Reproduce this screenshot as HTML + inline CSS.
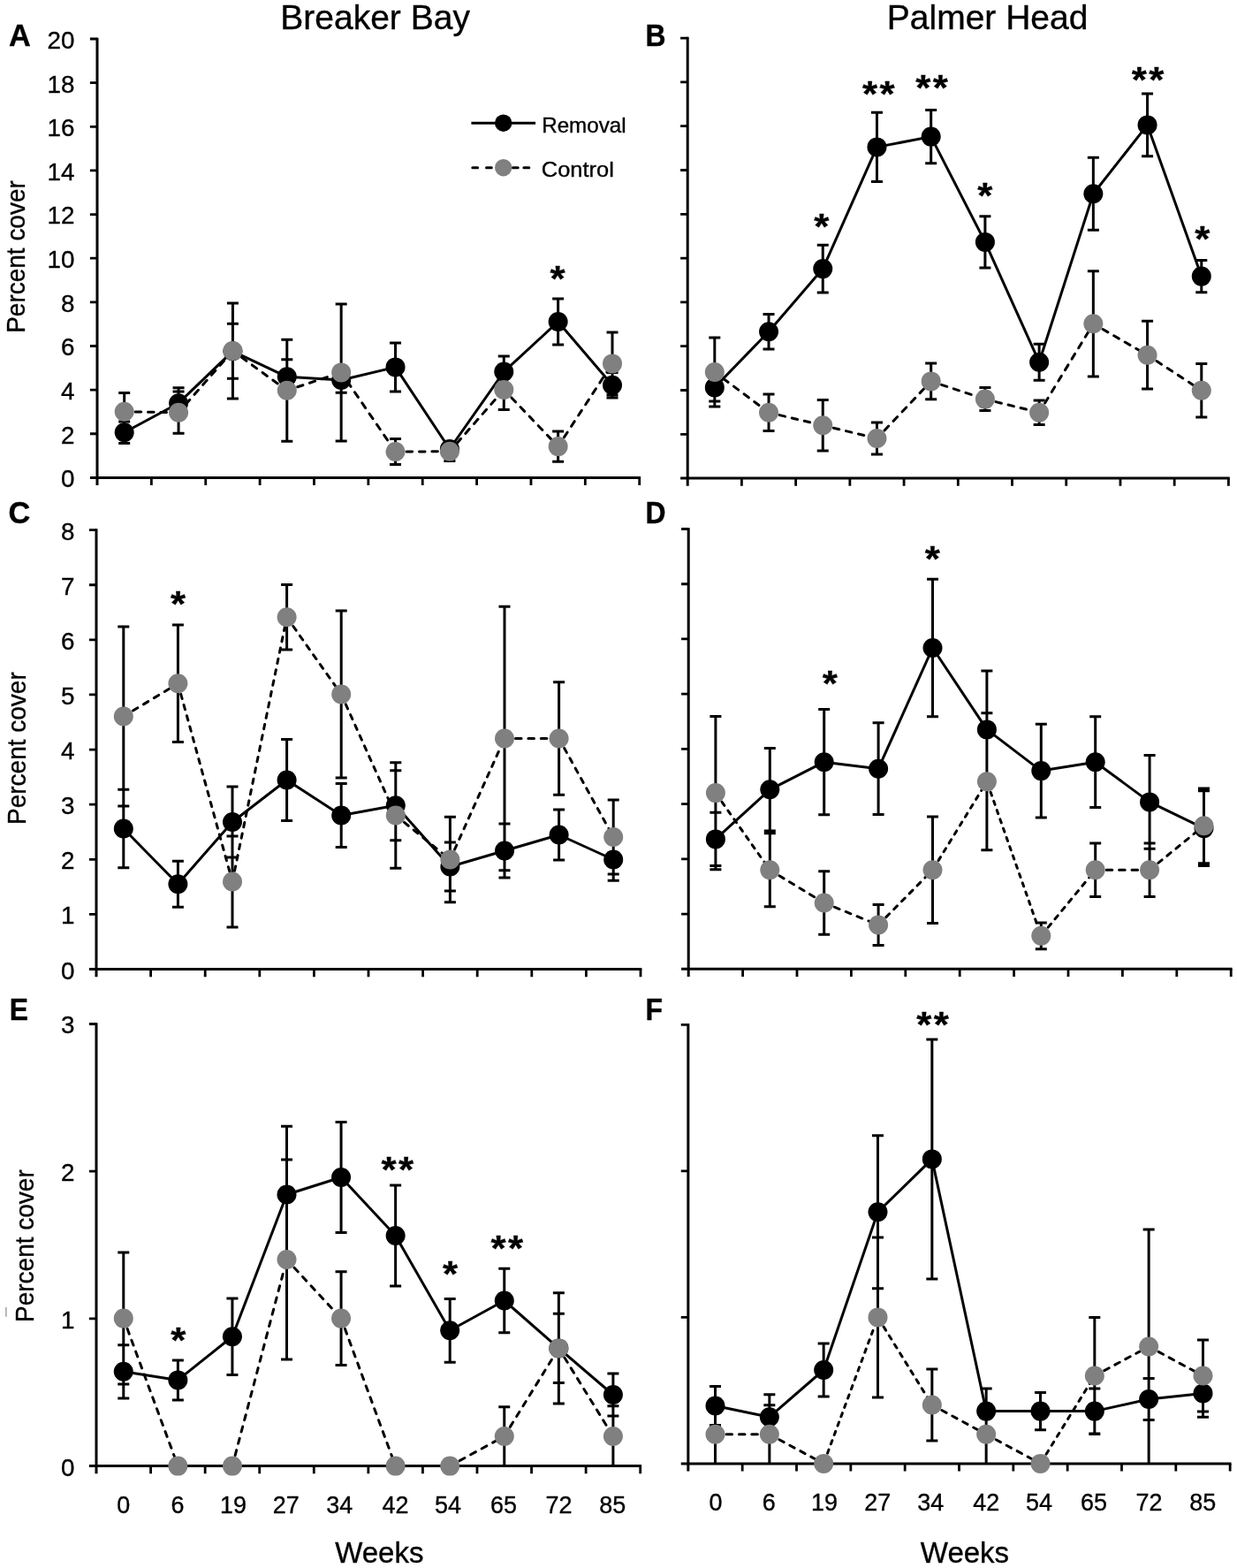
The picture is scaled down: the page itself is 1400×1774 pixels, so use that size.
<!DOCTYPE html>
<html lang="en"><head><meta charset="utf-8"><title>Percent cover over weeks: Breaker Bay and Palmer Head</title>
<style>
html,body{margin:0;padding:0;background:#fff;}
body{width:1400px;height:1774px;overflow:hidden;}
svg{display:block;}
text{font-family:"Liberation Sans", Arial, Helvetica, sans-serif;fill:#000;stroke:#000;stroke-width:0.35px;}
.ax{fill:none;stroke:#000;stroke-width:3.0;stroke-linecap:butt;}
.tk{fill:none;stroke:#000;stroke-width:2.8;}
.sl{fill:none;stroke:#000;stroke-width:3.0;stroke-linejoin:round;}
.dl{fill:none;stroke:#000;stroke-width:3.0;stroke-linecap:round;}
.eb{fill:none;stroke:#000;stroke-width:3.0;}
.yl{font-size:27.8px;text-anchor:end;}
.xl{font-size:27.8px;text-anchor:middle;}
.pl{font-size:34.3px;font-weight:bold;}
.st{font-size:44.0px;font-weight:bold;text-anchor:middle;}
.yt{font-size:28px;text-anchor:middle;}
.wk{font-size:33px;text-anchor:middle;}
.tt{font-size:39px;text-anchor:middle;}
.lg{font-size:23.8px;}
</style></head><body>
<svg width="1400" height="1774" viewBox="0 0 1400 1774">
<rect width="1400" height="1774" fill="#fff"/>
<text class="tt" x="424.6" y="32.7">Breaker Bay</text>
<text class="tt" x="1117.6" y="33.4">Palmer Head</text>
<text class="pl" transform="translate(10 52) scale(1 1)">A</text>
<text class="pl" transform="translate(730.45 52.1) scale(0.93 1)">B</text>
<text class="pl" transform="translate(9.6 592) scale(1 1)">C</text>
<text class="pl" transform="translate(730.45 591.9) scale(0.93 1)">D</text>
<text class="pl" transform="translate(10.75 1154.2) scale(0.93 1)">E</text>
<text class="pl" transform="translate(730.45 1153.8) scale(0.93 1)">F</text>
<text class="yt" transform="translate(28.2 290.5) rotate(-90) scale(1 1.05)">Percent cover</text>
<text class="yt" transform="translate(28.8 846.6) rotate(-90) scale(1 1.05)">Percent cover</text>
<text class="yt" transform="translate(37.5 1409.6) rotate(-90) scale(1 1.05)">Percent cover</text>
<rect x="6.3" y="1479" width="1.2" height="10.7" fill="#8a8a8a"/>
<g id="panel-A">
<path class="ax" d="M110 42.65 V549.1 M101.9 540.4 H725.05"/>
<path class="tk" d="M171.37 540.4 V549.1M232.74 540.4 V549.1M294.11 540.4 V549.1M355.48 540.4 V549.1M416.85 540.4 V549.1M478.22 540.4 V549.1M539.59 540.4 V549.1M600.96 540.4 V549.1M662.33 540.4 V549.1M723.7 540.4 V549.1M101.9 490.76 H110M101.9 441.12 H110M101.9 391.48 H110M101.9 341.84 H110M101.9 292.2 H110M101.9 242.56 H110M101.9 192.92 H110M101.9 143.28 H110M101.9 93.64 H110M101.9 44 H110"/>
<text class="yl" x="84.5" y="551.3">0</text>
<text class="yl" x="84.5" y="501.66">2</text>
<text class="yl" x="84.5" y="452.02">4</text>
<text class="yl" x="84.5" y="402.38">6</text>
<text class="yl" x="84.5" y="352.74">8</text>
<text class="yl" x="84.5" y="303.1">10</text>
<text class="yl" x="84.5" y="253.46">12</text>
<text class="yl" x="84.5" y="203.82">14</text>
<text class="yl" x="84.5" y="154.18">16</text>
<text class="yl" x="84.5" y="104.54">18</text>
<text class="yl" x="84.5" y="54.9">20</text>
<line class="dl" x1="140.69" y1="465.8" x2="202.06" y2="466.7" stroke-dasharray="6.58 7.82" stroke-dashoffset="-12.5"/>
<line class="dl" x1="202.06" y1="466.7" x2="263.42" y2="397" stroke-dasharray="6.74 7.91" stroke-dashoffset="-12.5"/>
<line class="dl" x1="263.42" y1="397" x2="324.79" y2="441.7" stroke-dasharray="6.68 7.87" stroke-dashoffset="-12.5"/>
<line class="dl" x1="324.79" y1="441.7" x2="386.16" y2="421.4" stroke-dasharray="6.6 7.84" stroke-dashoffset="-12.5"/>
<line class="dl" x1="386.16" y1="421.4" x2="447.53" y2="511" stroke-dasharray="6.77 7.92" stroke-dashoffset="-12.5"/>
<line class="dl" x1="447.53" y1="511" x2="508.9" y2="510.8" stroke-dasharray="6.58 7.82" stroke-dashoffset="-12.5"/>
<line class="dl" x1="508.9" y1="510.8" x2="570.27" y2="440.9" stroke-dasharray="6.74 7.91" stroke-dashoffset="-12.5"/>
<line class="dl" x1="570.27" y1="440.9" x2="631.64" y2="505.1" stroke-dasharray="6.73 7.9" stroke-dashoffset="-12.5"/>
<line class="dl" x1="631.64" y1="505.1" x2="693.01" y2="411.4" stroke-dasharray="6.78 7.93" stroke-dashoffset="-12.5"/>
<polyline class="sl" points="140.69,489.2 202.06,456.2 263.42,397.3 324.79,426.3 386.16,430 447.53,415.4 508.9,508 570.27,420.6 631.64,364 693.01,435.7"/>
<path class="eb" d="M140.69 476.9 V501.5M134.19 476.9 H147.19M134.19 501.5 H147.19M202.06 438.7 V473.7M195.56 438.7 H208.56M195.56 473.7 H208.56M263.42 366.3 V428.3M256.92 366.3 H269.92M256.92 428.3 H269.92M324.79 406.8 V445.8M318.29 406.8 H331.29M318.29 445.8 H331.29M386.16 415.8 V444.2M379.66 415.8 H392.66M379.66 444.2 H392.66M447.53 387.9 V442.9M441.03 387.9 H454.03M441.03 442.9 H454.03M508.9 505 V511M502.4 505 H515.4M502.4 511 H515.4M570.27 402.9 V438.3M563.77 402.9 H576.77M563.77 438.3 H576.77M631.64 338 V390M625.14 338 H638.14M625.14 390 H638.14M693.01 421.4 V450M686.51 421.4 H699.51M686.51 450 H699.51M140.69 444.5 V487.1M134.19 444.5 H147.19M134.19 487.1 H147.19M202.06 443.1 V490.3M195.56 443.1 H208.56M195.56 490.3 H208.56M263.42 343 V451M256.92 343 H269.92M256.92 451 H269.92M324.79 384.2 V499.2M318.29 384.2 H331.29M318.29 499.2 H331.29M386.16 343.9 V498.9M379.66 343.9 H392.66M379.66 498.9 H392.66M447.53 496.6 V525.4M441.03 496.6 H454.03M441.03 525.4 H454.03M508.9 500.1 V521.5M502.4 500.1 H515.4M502.4 521.5 H515.4M570.27 418.4 V463.4M563.77 418.4 H576.77M563.77 463.4 H576.77M631.64 488 V522.2M625.14 488 H638.14M625.14 522.2 H638.14M693.01 376.1 V446.7M686.51 376.1 H699.51M686.51 446.7 H699.51"/>
<circle cx="140.69" cy="489.2" r="11"/>
<circle cx="202.06" cy="456.2" r="11"/>
<circle cx="263.42" cy="397.3" r="11"/>
<circle cx="324.79" cy="426.3" r="11"/>
<circle cx="386.16" cy="430" r="11"/>
<circle cx="447.53" cy="415.4" r="11"/>
<circle cx="508.9" cy="508" r="11"/>
<circle cx="570.27" cy="420.6" r="11"/>
<circle cx="631.64" cy="364" r="11"/>
<circle cx="693.01" cy="435.7" r="11"/>
<circle cx="140.69" cy="465.8" r="11" fill="#808080"/>
<circle cx="202.06" cy="466.7" r="11" fill="#808080"/>
<circle cx="263.42" cy="397" r="11" fill="#808080"/>
<circle cx="324.79" cy="441.7" r="11" fill="#808080"/>
<circle cx="386.16" cy="421.4" r="11" fill="#808080"/>
<circle cx="447.53" cy="511" r="11" fill="#808080"/>
<circle cx="508.9" cy="510.8" r="11" fill="#808080"/>
<circle cx="570.27" cy="440.9" r="11" fill="#808080"/>
<circle cx="631.64" cy="505.1" r="11" fill="#808080"/>
<circle cx="693.01" cy="411.4" r="11" fill="#808080"/>
<text class="st" transform="translate(631.1 309) scale(1 0.94)" y="21.56">*</text>
</g>
<g id="panel-B">
<path class="ax" d="M778.2 41.75 V549.8 M770.1 541.1 H1391.75"/>
<path class="tk" d="M839.42 541.1 V549.8M900.64 541.1 V549.8M961.86 541.1 V549.8M1023.08 541.1 V549.8M1084.3 541.1 V549.8M1145.52 541.1 V549.8M1206.74 541.1 V549.8M1267.96 541.1 V549.8M1329.18 541.1 V549.8M1390.4 541.1 V549.8M770.1 491.3 H778.2M770.1 441.5 H778.2M770.1 391.7 H778.2M770.1 341.9 H778.2M770.1 292.1 H778.2M770.1 242.3 H778.2M770.1 192.5 H778.2M770.1 142.7 H778.2M770.1 92.9 H778.2M770.1 43.1 H778.2"/>
<line class="dl" x1="808.81" y1="421" x2="870.03" y2="466.7" stroke-dasharray="6.64 7.86" stroke-dashoffset="-12.5"/>
<line class="dl" x1="870.03" y1="466.7" x2="931.25" y2="481.3" stroke-dasharray="6.59 7.83" stroke-dashoffset="-12.5"/>
<line class="dl" x1="931.25" y1="481.3" x2="992.47" y2="496" stroke-dasharray="6.59 7.83" stroke-dashoffset="-12.5"/>
<line class="dl" x1="992.47" y1="496" x2="1053.69" y2="431.4" stroke-dasharray="6.68 7.88" stroke-dashoffset="-12.5"/>
<line class="dl" x1="1053.69" y1="431.4" x2="1114.91" y2="451.6" stroke-dasharray="6.59 7.83" stroke-dashoffset="-12.5"/>
<line class="dl" x1="1114.91" y1="451.6" x2="1176.13" y2="466.7" stroke-dasharray="6.59 7.83" stroke-dashoffset="-12.5"/>
<line class="dl" x1="1176.13" y1="466.7" x2="1237.35" y2="366.3" stroke-dasharray="6.72 7.89" stroke-dashoffset="-12.5"/>
<line class="dl" x1="1237.35" y1="366.3" x2="1298.57" y2="401.7" stroke-dasharray="6.62 7.85" stroke-dashoffset="-12.5"/>
<line class="dl" x1="1298.57" y1="401.7" x2="1359.79" y2="441.7" stroke-dasharray="6.63 7.85" stroke-dashoffset="-12.5"/>
<polyline class="sl" points="808.81,438.4 870.03,375.3 931.25,304.1 992.47,166.4 1053.69,154.6 1114.91,273.9 1176.13,409.7 1237.35,219.2 1298.57,141.4 1359.79,312.6"/>
<path class="eb" d="M808.81 422.8 V454M802.31 422.8 H815.31M802.31 454 H815.31M870.03 355.5 V395.1M863.53 355.5 H876.53M863.53 395.1 H876.53M931.25 277.2 V331M924.75 277.2 H937.75M924.75 331 H937.75M992.47 127.3 V205.5M985.97 127.3 H998.97M985.97 205.5 H998.97M1053.69 124.4 V184.8M1047.19 124.4 H1060.19M1047.19 184.8 H1060.19M1114.91 244.7 V303.1M1108.41 244.7 H1121.41M1108.41 303.1 H1121.41M1176.13 389.2 V430.2M1169.63 389.2 H1182.63M1169.63 430.2 H1182.63M1237.35 178.2 V260.2M1230.85 178.2 H1243.85M1230.85 260.2 H1243.85M1298.57 106 V176.8M1292.07 106 H1305.07M1292.07 176.8 H1305.07M1359.79 294.5 V330.7M1353.29 294.5 H1366.29M1353.29 330.7 H1366.29M808.81 381.9 V460.1M802.31 381.9 H815.31M802.31 460.1 H815.31M870.03 446 V487.4M863.53 446 H876.53M863.53 487.4 H876.53M931.25 452.5 V510.1M924.75 452.5 H937.75M924.75 510.1 H937.75M992.47 477.9 V514.1M985.97 477.9 H998.97M985.97 514.1 H998.97M1053.69 411.1 V451.7M1047.19 411.1 H1060.19M1047.19 451.7 H1060.19M1114.91 438.6 V464.6M1108.41 438.6 H1121.41M1108.41 464.6 H1121.41M1176.13 453 V480.4M1169.63 453 H1182.63M1169.63 480.4 H1182.63M1237.35 306.7 V425.9M1230.85 306.7 H1243.85M1230.85 425.9 H1243.85M1298.57 363.3 V440.1M1292.07 363.3 H1305.07M1292.07 440.1 H1305.07M1359.79 411.5 V471.9M1353.29 411.5 H1366.29M1353.29 471.9 H1366.29"/>
<circle cx="808.81" cy="438.4" r="11"/>
<circle cx="870.03" cy="375.3" r="11"/>
<circle cx="931.25" cy="304.1" r="11"/>
<circle cx="992.47" cy="166.4" r="11"/>
<circle cx="1053.69" cy="154.6" r="11"/>
<circle cx="1114.91" cy="273.9" r="11"/>
<circle cx="1176.13" cy="409.7" r="11"/>
<circle cx="1237.35" cy="219.2" r="11"/>
<circle cx="1298.57" cy="141.4" r="11"/>
<circle cx="1359.79" cy="312.6" r="11"/>
<circle cx="808.81" cy="421" r="11" fill="#808080"/>
<circle cx="870.03" cy="466.7" r="11" fill="#808080"/>
<circle cx="931.25" cy="481.3" r="11" fill="#808080"/>
<circle cx="992.47" cy="496" r="11" fill="#808080"/>
<circle cx="1053.69" cy="431.4" r="11" fill="#808080"/>
<circle cx="1114.91" cy="451.6" r="11" fill="#808080"/>
<circle cx="1176.13" cy="466.7" r="11" fill="#808080"/>
<circle cx="1237.35" cy="366.3" r="11" fill="#808080"/>
<circle cx="1298.57" cy="401.7" r="11" fill="#808080"/>
<circle cx="1359.79" cy="441.7" r="11" fill="#808080"/>
<text class="st" transform="translate(929.9 249.6) scale(1 0.94)" y="21.56">*</text>
<text class="st" transform="translate(984.55 99.55) scale(1 0.94)" y="21.56">*</text>
<text class="st" transform="translate(1004.05 99.55) scale(1 0.94)" y="21.56">*</text>
<text class="st" transform="translate(1044.75 92.9) scale(1 0.94)" y="21.56">*</text>
<text class="st" transform="translate(1064.25 92.9) scale(1 0.94)" y="21.56">*</text>
<text class="st" transform="translate(1114.8 214.9) scale(1 0.94)" y="21.56">*</text>
<text class="st" transform="translate(1289.35 83.5) scale(1 0.94)" y="21.56">*</text>
<text class="st" transform="translate(1308.85 83.5) scale(1 0.94)" y="21.56">*</text>
<text class="st" transform="translate(1360.7 263.3) scale(1 0.94)" y="21.56">*</text>
</g>
<g id="panel-C">
<path class="ax" d="M109 598.25 V1105.3 M100.9 1096.6 H726.35"/>
<path class="tk" d="M170.6 1096.6 V1105.3M232.2 1096.6 V1105.3M293.8 1096.6 V1105.3M355.4 1096.6 V1105.3M417 1096.6 V1105.3M478.6 1096.6 V1105.3M540.2 1096.6 V1105.3M601.8 1096.6 V1105.3M663.4 1096.6 V1105.3M725 1096.6 V1105.3M100.9 1034.47 H109M100.9 972.35 H109M100.9 910.22 H109M100.9 848.1 H109M100.9 785.97 H109M100.9 723.85 H109M100.9 661.73 H109M100.9 599.6 H109"/>
<text class="yl" x="84.5" y="1107.5">0</text>
<text class="yl" x="84.5" y="1045.38">1</text>
<text class="yl" x="84.5" y="983.25">2</text>
<text class="yl" x="84.5" y="921.12">3</text>
<text class="yl" x="84.5" y="859">4</text>
<text class="yl" x="84.5" y="796.87">5</text>
<text class="yl" x="84.5" y="734.75">6</text>
<text class="yl" x="84.5" y="672.62">7</text>
<text class="yl" x="84.5" y="610.5">8</text>
<line class="dl" x1="139.8" y1="810.5" x2="201.4" y2="773.3" stroke-dasharray="6.26 7.66" stroke-dashoffset="-12.5"/>
<line class="dl" x1="201.4" y1="773.3" x2="263" y2="997.5" stroke-dasharray="5.42 7.24" stroke-dashoffset="-12.5"/>
<line class="dl" x1="263" y1="997.5" x2="324.6" y2="698.3" stroke-dasharray="5.39 7.22" stroke-dashoffset="-12.5"/>
<line class="dl" x1="324.6" y1="698.3" x2="386.2" y2="785.5" stroke-dasharray="5.77 7.42" stroke-dashoffset="-12.5"/>
<line class="dl" x1="386.2" y1="785.5" x2="447.8" y2="922.5" stroke-dasharray="5.55 7.31" stroke-dashoffset="-12.5"/>
<line class="dl" x1="447.8" y1="922.5" x2="509.4" y2="972.5" stroke-dasharray="6.1 7.59" stroke-dashoffset="-12.5"/>
<line class="dl" x1="509.4" y1="972.5" x2="571" y2="835.5" stroke-dasharray="5.55 7.31" stroke-dashoffset="-12.5"/>
<line class="dl" x1="571" y1="835.5" x2="632.6" y2="835.5" stroke-dasharray="6.58 7.82" stroke-dashoffset="-12.5"/>
<line class="dl" x1="632.6" y1="835.5" x2="694.2" y2="947" stroke-dasharray="5.64 7.35" stroke-dashoffset="-12.5"/>
<polyline class="sl" points="139.8,937.5 201.4,1000.3 263,930 324.6,882.5 386.2,922.5 447.8,911.3 509.4,980.5 571,962.5 632.6,944.5 694.2,972.5"/>
<path class="eb" d="M139.8 893.2 V981.8M133.3 893.2 H146.3M133.3 981.8 H146.3M201.4 974.3 V1026.3M194.9 974.3 H207.9M194.9 1026.3 H207.9M263 890 V970M256.5 890 H269.5M256.5 970 H269.5M324.6 836.5 V928.5M318.1 836.5 H331.1M318.1 928.5 H331.1M386.2 886.5 V958.5M379.7 886.5 H392.7M379.7 958.5 H392.7M447.8 871.8 V950.8M441.3 871.8 H454.3M441.3 950.8 H454.3M509.4 953 V1008M502.9 953 H515.9M502.9 1008 H515.9M571 932 V993M564.5 932 H577.5M564.5 993 H577.5M632.6 916 V973M626.1 916 H639.1M626.1 973 H639.1M694.2 948.7 V996.3M687.7 948.7 H700.7M687.7 996.3 H700.7M139.8 708.9 V912.1M133.3 708.9 H146.3M133.3 912.1 H146.3M201.4 707 V839.6M194.9 707 H207.9M194.9 839.6 H207.9M263 946 V1049M256.5 946 H269.5M256.5 1049 H269.5M324.6 661.5 V735.1M318.1 661.5 H331.1M318.1 735.1 H331.1M386.2 691.1 V879.9M379.7 691.1 H392.7M379.7 879.9 H392.7M447.8 862.7 V982.3M441.3 862.7 H454.3M441.3 982.3 H454.3M509.4 924.2 V1020.8M502.9 924.2 H515.9M502.9 1020.8 H515.9M571 686.2 V984.8M564.5 686.2 H577.5M564.5 984.8 H577.5M632.6 771.7 V899.3M626.1 771.7 H639.1M626.1 899.3 H639.1M694.2 905 V989M687.7 905 H700.7M687.7 989 H700.7"/>
<circle cx="139.8" cy="937.5" r="11"/>
<circle cx="201.4" cy="1000.3" r="11"/>
<circle cx="263" cy="930" r="11"/>
<circle cx="324.6" cy="882.5" r="11"/>
<circle cx="386.2" cy="922.5" r="11"/>
<circle cx="447.8" cy="911.3" r="11"/>
<circle cx="509.4" cy="980.5" r="11"/>
<circle cx="571" cy="962.5" r="11"/>
<circle cx="632.6" cy="944.5" r="11"/>
<circle cx="694.2" cy="972.5" r="11"/>
<circle cx="139.8" cy="810.5" r="11" fill="#808080"/>
<circle cx="201.4" cy="773.3" r="11" fill="#808080"/>
<circle cx="263" cy="997.5" r="11" fill="#808080"/>
<circle cx="324.6" cy="698.3" r="11" fill="#808080"/>
<circle cx="386.2" cy="785.5" r="11" fill="#808080"/>
<circle cx="447.8" cy="922.5" r="11" fill="#808080"/>
<circle cx="509.4" cy="972.5" r="11" fill="#808080"/>
<circle cx="571" cy="835.5" r="11" fill="#808080"/>
<circle cx="632.6" cy="835.5" r="11" fill="#808080"/>
<circle cx="694.2" cy="947" r="11" fill="#808080"/>
<text class="st" transform="translate(201.55 676.8) scale(1 0.94)" y="21.56">*</text>
</g>
<g id="panel-D">
<path class="ax" d="M779.2 597.15 V1105 M771.1 1096.3 H1394.55"/>
<path class="tk" d="M840.6 1096.3 V1105M902 1096.3 V1105M963.4 1096.3 V1105M1024.8 1096.3 V1105M1086.2 1096.3 V1105M1147.6 1096.3 V1105M1209 1096.3 V1105M1270.4 1096.3 V1105M1331.8 1096.3 V1105M1393.2 1096.3 V1105M771.1 1034.08 H779.2M771.1 971.85 H779.2M771.1 909.62 H779.2M771.1 847.4 H779.2M771.1 785.17 H779.2M771.1 722.95 H779.2M771.1 660.73 H779.2M771.1 598.5 H779.2"/>
<line class="dl" x1="809.9" y1="897.1" x2="871.3" y2="984.3" stroke-dasharray="4.89 6.97" stroke-dashoffset="-12.5"/>
<line class="dl" x1="871.3" y1="984.3" x2="932.7" y2="1021.5" stroke-dasharray="5.94 7.5" stroke-dashoffset="-12.5"/>
<line class="dl" x1="932.7" y1="1021.5" x2="994.1" y2="1046.5" stroke-dasharray="6.24 7.66" stroke-dashoffset="-12.5"/>
<line class="dl" x1="994.1" y1="1046.5" x2="1055.5" y2="984.3" stroke-dasharray="5.33 7.19" stroke-dashoffset="-12.5"/>
<line class="dl" x1="1055.5" y1="984.3" x2="1116.9" y2="884.3" stroke-dasharray="4.72 6.89" stroke-dashoffset="-12.5"/>
<line class="dl" x1="1116.9" y1="884.3" x2="1178.3" y2="1058.8" stroke-dasharray="4.24 6.65" stroke-dashoffset="-12.5"/>
<line class="dl" x1="1178.3" y1="1058.8" x2="1239.7" y2="984.3" stroke-dasharray="5.09 7.07" stroke-dashoffset="-12.5"/>
<line class="dl" x1="1239.7" y1="984.3" x2="1301.1" y2="984.3" stroke-dasharray="6.58 7.82" stroke-dashoffset="-12.5"/>
<line class="dl" x1="1301.1" y1="984.3" x2="1362.5" y2="934.3" stroke-dasharray="5.61 7.34" stroke-dashoffset="-12.5"/>
<polyline class="sl" points="809.9,949.4 871.3,893.3 932.7,862.2 994.1,869.7 1055.5,733 1116.9,825.4 1178.3,872.1 1239.7,862.2 1301.1,907.4 1362.5,937.1"/>
<path class="eb" d="M809.9 919.2 V979.6M803.4 919.2 H816.4M803.4 979.6 H816.4M871.3 846.6 V940M864.8 846.6 H877.8M864.8 940 H877.8M932.7 802.6 V921.8M926.2 802.6 H939.2M926.2 921.8 H939.2M994.1 817.8 V921.6M987.6 817.8 H1000.6M987.6 921.6 H1000.6M1055.5 655.2 V810.8M1049 655.2 H1062M1049 810.8 H1062M1116.9 758.9 V891.9M1110.4 758.9 H1123.4M1110.4 891.9 H1123.4M1178.3 819.3 V924.9M1171.8 819.3 H1184.8M1171.8 924.9 H1184.8M1239.7 810.8 V913.6M1233.2 810.8 H1246.2M1233.2 913.6 H1246.2M1301.1 854.6 V960.2M1294.6 854.6 H1307.6M1294.6 960.2 H1307.6M1362.5 894.7 V979.5M1356 894.7 H1369M1356 979.5 H1369M809.9 810.4 V983.8M803.4 810.4 H816.4M803.4 983.8 H816.4M871.3 942.8 V1025.8M864.8 942.8 H877.8M864.8 1025.8 H877.8M932.7 985.7 V1057.3M926.2 985.7 H939.2M926.2 1057.3 H939.2M994.1 1023.6 V1069.4M987.6 1023.6 H1000.6M987.6 1069.4 H1000.6M1055.5 924 V1044.6M1049 924 H1062M1049 1044.6 H1062M1116.9 806.8 V961.8M1110.4 806.8 H1123.4M1110.4 961.8 H1123.4M1178.3 1043.9 V1073.7M1171.8 1043.9 H1184.8M1171.8 1073.7 H1184.8M1239.7 954.1 V1014.5M1233.2 954.1 H1246.2M1233.2 1014.5 H1246.2M1301.1 954.1 V1014.5M1294.6 954.1 H1307.6M1294.6 1014.5 H1307.6M1362.5 891.9 V976.7M1356 891.9 H1369M1356 976.7 H1369"/>
<circle cx="809.9" cy="949.4" r="11"/>
<circle cx="871.3" cy="893.3" r="11"/>
<circle cx="932.7" cy="862.2" r="11"/>
<circle cx="994.1" cy="869.7" r="11"/>
<circle cx="1055.5" cy="733" r="11"/>
<circle cx="1116.9" cy="825.4" r="11"/>
<circle cx="1178.3" cy="872.1" r="11"/>
<circle cx="1239.7" cy="862.2" r="11"/>
<circle cx="1301.1" cy="907.4" r="11"/>
<circle cx="1362.5" cy="937.1" r="11"/>
<circle cx="809.9" cy="897.1" r="11" fill="#808080"/>
<circle cx="871.3" cy="984.3" r="11" fill="#808080"/>
<circle cx="932.7" cy="1021.5" r="11" fill="#808080"/>
<circle cx="994.1" cy="1046.5" r="11" fill="#808080"/>
<circle cx="1055.5" cy="984.3" r="11" fill="#808080"/>
<circle cx="1116.9" cy="884.3" r="11" fill="#808080"/>
<circle cx="1178.3" cy="1058.8" r="11" fill="#808080"/>
<circle cx="1239.7" cy="984.3" r="11" fill="#808080"/>
<circle cx="1301.1" cy="984.3" r="11" fill="#808080"/>
<circle cx="1362.5" cy="934.3" r="11" fill="#808080"/>
<text class="st" transform="translate(939.4 767.1) scale(1 0.94)" y="21.56">*</text>
<text class="st" transform="translate(1055.4 625.7) scale(1 0.94)" y="21.56">*</text>
</g>
<g id="panel-E">
<path class="ax" d="M109 1157.15 V1667.3 M100.9 1658.6 H726.05"/>
<path class="tk" d="M170.57 1658.6 V1667.3M232.14 1658.6 V1667.3M293.71 1658.6 V1667.3M355.28 1658.6 V1667.3M416.85 1658.6 V1667.3M478.42 1658.6 V1667.3M539.99 1658.6 V1667.3M601.56 1658.6 V1667.3M663.13 1658.6 V1667.3M724.7 1658.6 V1667.3M100.9 1491.9 H109M100.9 1325.2 H109M100.9 1158.5 H109"/>
<text class="yl" x="84.5" y="1669.5">0</text>
<text class="yl" x="84.5" y="1502.8">1</text>
<text class="yl" x="84.5" y="1336.1">2</text>
<text class="yl" x="84.5" y="1169.4">3</text>
<line class="dl" x1="139.78" y1="1491.6" x2="201.36" y2="1658.6" stroke-dasharray="6.16 7.61" stroke-dashoffset="-12.5"/>
<line class="dl" x1="201.36" y1="1658.6" x2="262.93" y2="1658.6" stroke-dasharray="6.58 7.82" stroke-dashoffset="-12.5"/>
<line class="dl" x1="262.93" y1="1658.6" x2="324.5" y2="1425" stroke-dasharray="6.13 7.6" stroke-dashoffset="-12.5"/>
<line class="dl" x1="324.5" y1="1425" x2="386.06" y2="1491.6" stroke-dasharray="6.32 7.7" stroke-dashoffset="-12.5"/>
<line class="dl" x1="386.06" y1="1491.6" x2="447.63" y2="1658.6" stroke-dasharray="6.16 7.61" stroke-dashoffset="-12.5"/>
<line class="dl" x1="447.63" y1="1658.6" x2="509.2" y2="1658.6" stroke-dasharray="6.58 7.82" stroke-dashoffset="-12.5"/>
<line class="dl" x1="509.2" y1="1658.6" x2="570.77" y2="1625" stroke-dasharray="6.47 7.77" stroke-dashoffset="-12.5"/>
<line class="dl" x1="570.77" y1="1625" x2="632.35" y2="1525.4" stroke-dasharray="6.23 7.65" stroke-dashoffset="-12.5"/>
<line class="dl" x1="632.35" y1="1525.4" x2="693.91" y2="1625" stroke-dasharray="6.23 7.65" stroke-dashoffset="-12.5"/>
<polyline class="sl" points="139.78,1551.8 201.36,1561.4 262.93,1512.2 324.5,1351.5 386.06,1332 447.63,1398 509.2,1505.3 570.77,1471.5 632.35,1525.4 693.91,1578"/>
<path class="eb" d="M139.78 1521.7 V1581.9M133.28 1521.7 H146.28M133.28 1581.9 H146.28M201.36 1538.9 V1583.9M194.86 1538.9 H207.86M194.86 1583.9 H207.86M262.93 1468.9 V1555.5M256.43 1468.9 H269.43M256.43 1555.5 H269.43M324.5 1274.3 V1428.7M318 1274.3 H331M318 1428.7 H331M386.06 1269.4 V1394.6M379.56 1269.4 H392.56M379.56 1394.6 H392.56M447.63 1340.9 V1455.1M441.13 1340.9 H454.13M441.13 1455.1 H454.13M509.2 1469.4 V1541.2M502.7 1469.4 H515.7M502.7 1541.2 H515.7M570.77 1435.3 V1507.7M564.27 1435.3 H577.27M564.27 1507.7 H577.27M632.35 1486.3 V1564.5M625.85 1486.3 H638.85M625.85 1564.5 H638.85M693.91 1553.9 V1602.1M687.41 1553.9 H700.41M687.41 1602.1 H700.41M139.78 1417.1 V1566.1M133.28 1417.1 H146.28M133.28 1566.1 H146.28M324.5 1311.9 V1538.1M318 1311.9 H331M318 1538.1 H331M386.06 1438.7 V1544.5M379.56 1438.7 H392.56M379.56 1544.5 H392.56M570.77 1591.7 V1658.6M564.27 1591.7 H577.27M632.35 1462.8 V1588M625.85 1462.8 H638.85M625.85 1588 H638.85M693.91 1590.7 V1658.6M687.41 1590.7 H700.41"/>
<circle cx="139.78" cy="1551.8" r="11"/>
<circle cx="201.36" cy="1561.4" r="11"/>
<circle cx="262.93" cy="1512.2" r="11"/>
<circle cx="324.5" cy="1351.5" r="11"/>
<circle cx="386.06" cy="1332" r="11"/>
<circle cx="447.63" cy="1398" r="11"/>
<circle cx="509.2" cy="1505.3" r="11"/>
<circle cx="570.77" cy="1471.5" r="11"/>
<circle cx="632.35" cy="1525.4" r="11"/>
<circle cx="693.91" cy="1578" r="11"/>
<circle cx="139.78" cy="1491.6" r="11" fill="#808080"/>
<circle cx="201.36" cy="1658.6" r="11" fill="#808080"/>
<circle cx="262.93" cy="1658.6" r="11" fill="#808080"/>
<circle cx="324.5" cy="1425" r="11" fill="#808080"/>
<circle cx="386.06" cy="1491.6" r="11" fill="#808080"/>
<circle cx="447.63" cy="1658.6" r="11" fill="#808080"/>
<circle cx="509.2" cy="1658.6" r="11" fill="#808080"/>
<circle cx="570.77" cy="1625" r="11" fill="#808080"/>
<circle cx="632.35" cy="1525.4" r="11" fill="#808080"/>
<circle cx="693.91" cy="1625" r="11" fill="#808080"/>
<text class="st" transform="translate(201.7 1509.3) scale(1 0.94)" y="21.56">*</text>
<text class="st" transform="translate(440.05 1316.4) scale(1 0.94)" y="21.56">*</text>
<text class="st" transform="translate(459.55 1316.4) scale(1 0.94)" y="21.56">*</text>
<text class="st" transform="translate(509.5 1435) scale(1 0.94)" y="21.56">*</text>
<text class="st" transform="translate(564.15 1405.7) scale(1 0.94)" y="21.56">*</text>
<text class="st" transform="translate(583.65 1405.7) scale(1 0.94)" y="21.56">*</text>
</g>
<g id="panel-F">
<path class="ax" d="M778.85 1157.95 V1664.6 M770.75 1655.9 H1393.5"/>
<path class="tk" d="M840.18 1655.9 V1664.6M901.51 1655.9 V1664.6M962.84 1655.9 V1664.6M1024.17 1655.9 V1664.6M1085.5 1655.9 V1664.6M1146.83 1655.9 V1664.6M1208.16 1655.9 V1664.6M1269.49 1655.9 V1664.6M1330.82 1655.9 V1664.6M1392.15 1655.9 V1664.6M770.75 1490.37 H778.85M770.75 1324.83 H778.85M770.75 1159.3 H778.85"/>
<line class="dl" x1="809.51" y1="1622.8" x2="870.85" y2="1622.8" stroke-dasharray="6.58 7.82" stroke-dashoffset="-12.5"/>
<line class="dl" x1="870.85" y1="1622.8" x2="932.17" y2="1655.9" stroke-dasharray="6.06 7.56" stroke-dashoffset="-12.5"/>
<line class="dl" x1="932.17" y1="1655.9" x2="993.5" y2="1490.4" stroke-dasharray="4.35 6.7" stroke-dashoffset="-12.5"/>
<line class="dl" x1="993.5" y1="1490.4" x2="1054.84" y2="1589.5" stroke-dasharray="4.79 6.93" stroke-dashoffset="-12.5"/>
<line class="dl" x1="1054.84" y1="1589.5" x2="1116.16" y2="1622.8" stroke-dasharray="6.05 7.56" stroke-dashoffset="-12.5"/>
<line class="dl" x1="1116.16" y1="1622.8" x2="1177.49" y2="1655.9" stroke-dasharray="6.06 7.56" stroke-dashoffset="-12.5"/>
<line class="dl" x1="1177.49" y1="1655.9" x2="1238.83" y2="1556.5" stroke-dasharray="4.79 6.92" stroke-dashoffset="-12.5"/>
<line class="dl" x1="1238.83" y1="1556.5" x2="1300.15" y2="1523.5" stroke-dasharray="6.06 7.56" stroke-dashoffset="-12.5"/>
<line class="dl" x1="1300.15" y1="1523.5" x2="1361.49" y2="1556.5" stroke-dasharray="6.06 7.56" stroke-dashoffset="-12.5"/>
<polyline class="sl" points="809.51,1590.5 870.85,1603.2 932.17,1550 993.5,1371.3 1054.84,1311.4 1116.16,1596.6 1177.49,1596.6 1238.83,1596.6 1300.15,1583 1361.49,1576.4"/>
<path class="eb" d="M809.51 1568.6 V1612.4M803.01 1568.6 H816.01M803.01 1612.4 H816.01M870.85 1577.7 V1628.7M864.35 1577.7 H877.35M864.35 1628.7 H877.35M932.17 1520.1 V1579.9M925.67 1520.1 H938.67M925.67 1579.9 H938.67M993.5 1284.8 V1457.8M987 1284.8 H1000M987 1457.8 H1000M1054.84 1175.9 V1446.9M1048.34 1175.9 H1061.34M1048.34 1446.9 H1061.34M1116.16 1571.1 V1622.1M1109.66 1571.1 H1122.66M1109.66 1622.1 H1122.66M1177.49 1575.4 V1617.8M1170.99 1575.4 H1183.99M1170.99 1617.8 H1183.99M1238.83 1571.1 V1622.1M1232.33 1571.1 H1245.33M1232.33 1622.1 H1245.33M1300.15 1559.4 V1606.6M1293.65 1559.4 H1306.65M1293.65 1606.6 H1306.65M1361.49 1549.5 V1603.3M1354.99 1549.5 H1367.99M1354.99 1603.3 H1367.99M809.51 1589.7 V1655.9M803.01 1589.7 H816.01M870.85 1589.7 V1655.9M864.35 1589.7 H877.35M993.5 1399.9 V1580.9M987 1399.9 H1000M987 1580.9 H1000M1054.84 1549 V1630M1048.34 1549 H1061.34M1048.34 1630 H1061.34M1116.16 1589.7 V1655.9M1109.66 1589.7 H1122.66M1238.83 1490.5 V1622.5M1232.33 1490.5 H1245.33M1232.33 1622.5 H1245.33M1300.15 1391 V1655.9M1293.65 1391 H1306.65M1361.49 1516 V1597M1354.99 1516 H1367.99M1354.99 1597 H1367.99"/>
<circle cx="809.51" cy="1590.5" r="11"/>
<circle cx="870.85" cy="1603.2" r="11"/>
<circle cx="932.17" cy="1550" r="11"/>
<circle cx="993.5" cy="1371.3" r="11"/>
<circle cx="1054.84" cy="1311.4" r="11"/>
<circle cx="1116.16" cy="1596.6" r="11"/>
<circle cx="1177.49" cy="1596.6" r="11"/>
<circle cx="1238.83" cy="1596.6" r="11"/>
<circle cx="1300.15" cy="1583" r="11"/>
<circle cx="1361.49" cy="1576.4" r="11"/>
<circle cx="809.51" cy="1622.8" r="11" fill="#808080"/>
<circle cx="870.85" cy="1622.8" r="11" fill="#808080"/>
<circle cx="932.17" cy="1655.9" r="11" fill="#808080"/>
<circle cx="993.5" cy="1490.4" r="11" fill="#808080"/>
<circle cx="1054.84" cy="1589.5" r="11" fill="#808080"/>
<circle cx="1116.16" cy="1622.8" r="11" fill="#808080"/>
<circle cx="1177.49" cy="1655.9" r="11" fill="#808080"/>
<circle cx="1238.83" cy="1556.5" r="11" fill="#808080"/>
<circle cx="1300.15" cy="1523.5" r="11" fill="#808080"/>
<circle cx="1361.49" cy="1556.5" r="11" fill="#808080"/>
<text class="st" transform="translate(1045.75 1152.6) scale(1 0.94)" y="21.56">*</text>
<text class="st" transform="translate(1065.25 1152.6) scale(1 0.94)" y="21.56">*</text>
</g>
<text class="xl" transform="translate(139.7 1712.3) scale(0.97 1)">0</text>
<text class="xl" transform="translate(200.9 1712.3) scale(0.97 1)">6</text>
<text class="xl" transform="translate(264.1 1712.3) scale(0.97 1)">19</text>
<text class="xl" transform="translate(323.8 1712.3) scale(0.97 1)">27</text>
<text class="xl" transform="translate(384.2 1712.3) scale(0.97 1)">34</text>
<text class="xl" transform="translate(447.4 1712.3) scale(0.97 1)">42</text>
<text class="xl" transform="translate(507.1 1712.3) scale(0.97 1)">54</text>
<text class="xl" transform="translate(570 1712.3) scale(0.97 1)">65</text>
<text class="xl" transform="translate(632.4 1712.3) scale(0.97 1)">72</text>
<text class="xl" transform="translate(693.2 1712.3) scale(0.97 1)">85</text>
<text class="xl" transform="translate(810 1709.3) scale(0.97 1)">0</text>
<text class="xl" transform="translate(870.2 1709.3) scale(0.97 1)">6</text>
<text class="xl" transform="translate(933 1709.3) scale(0.97 1)">19</text>
<text class="xl" transform="translate(993.2 1709.3) scale(0.97 1)">27</text>
<text class="xl" transform="translate(1053.3 1709.3) scale(0.97 1)">34</text>
<text class="xl" transform="translate(1116.3 1709.3) scale(0.97 1)">42</text>
<text class="xl" transform="translate(1176 1709.3) scale(0.97 1)">54</text>
<text class="xl" transform="translate(1238.1 1709.3) scale(0.97 1)">65</text>
<text class="xl" transform="translate(1300.4 1709.3) scale(0.97 1)">72</text>
<text class="xl" transform="translate(1361.3 1709.3) scale(0.97 1)">85</text>
<text class="wk" x="429.3" y="1767.8">Weeks</text>
<text class="wk" x="1092" y="1767.8">Weeks</text>
<g id="legend">
<line class="sl" x1="533.4" y1="139.2" x2="606.1" y2="139.2"/>
<circle cx="569.7" cy="139.2" r="9.7"/>
<line class="dl" x1="534.8" y1="189.7" x2="540.6" y2="189.7"/>
<line class="dl" x1="550.5" y1="189.7" x2="556.3" y2="189.7"/>
<line class="dl" x1="580.4" y1="189.7" x2="586.2" y2="189.7"/>
<line class="dl" x1="592.9" y1="189.7" x2="598.8" y2="189.7"/>
<circle cx="569.7" cy="189.7" r="9.7" fill="#808080"/>
<text class="lg" x="613.2" y="150.1" textLength="95.5" lengthAdjust="spacingAndGlyphs">Removal</text>
<text class="lg" x="612.8" y="200.4" textLength="82" lengthAdjust="spacingAndGlyphs">Control</text>
</g>
</svg></body></html>
